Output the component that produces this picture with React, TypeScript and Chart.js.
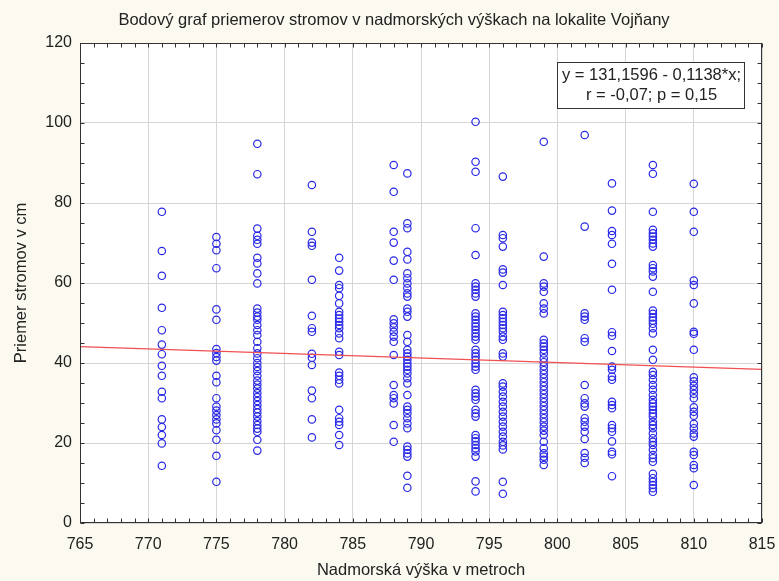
import { useEffect, useRef } from 'react';
import { Chart, registerables } from 'chart.js';

Chart.register(...registerables);

// Altitude (m) of each sampling plot and the trunk diameters (cm) measured there
const altitudes = [771, 775, 778, 782, 784, 788, 789, 794, 796, 799, 802, 804, 807, 810];

const d771 = [77.8, 68, 61.8, 53.8, 48.2, 44.6, 42.2, 39.3, 36.8, 32.8, 31.2, 25.9, 24, 22, 19.9, 14.3];
const d775 = [71.5, 69.8, 68.2, 63.7, 53.4, 50.8, 43.5, 42.5, 41.5, 40.6, 36.8, 35.2, 31.2, 29.1, 28.1, 27, 25.9, 24.9, 23.2, 20.8, 16.8, 10.3];
const d778 = [94.8, 87.2, 73.6, 71.8, 70.8, 69.8, 66.3, 64.9, 62.4, 59.9, 53.6, 52.6, 51.6, 50.8, 49.5, 48.2, 47, 45.3, 43.7, 42.4, 41.2, 40, 39, 38, 36.8, 35.6, 34.6, 33.6, 32.5, 31.5, 30.5, 29.5, 28.5, 27.6, 26.6, 25.5, 24.5, 23.6, 22.8, 20.8, 18.1];
const d782 = [84.5, 72.8, 70.1, 69.3, 60.8, 51.8, 48.7, 47.8, 42.3, 41.3, 39.5, 33.1, 31.2, 25.9, 21.4];
const d784 = [66.3, 63.1, 59.5, 58.7, 56.8, 54.9, 52.8, 52, 51.1, 50.3, 49.5, 48.7, 47.4, 46.2, 42.8, 42, 37.6, 36.8, 35.8, 34.9, 28.3, 26.2, 25.3, 24.5, 22, 19.5];
const d788 = [89.5, 82.8, 72.8, 70.1, 65.6, 60.8, 50.9, 49.9, 48.9, 47.8, 46.6, 45.3, 42, 34.5, 32, 31.2, 29.9, 24.5, 20.3];
const d789 = [87.4, 74.9, 73.7, 67.8, 65.9, 62.4, 61.2, 59.9, 58.7, 57.4, 56.6, 53.6, 52.8, 51.6, 47, 45.3, 43.3, 42.4, 41.6, 40.8, 39.9, 39.1, 38.3, 37.4, 36.2, 34.9, 32, 29.1, 28.3, 27.4, 26.2, 24.9, 23.7, 19.1, 18.3, 17.4, 16.6, 11.8, 8.8];
const d794 = [100.3, 90.3, 87.8, 73.7, 67, 59.9, 59.1, 58.3, 57.4, 56.6, 52.4, 51.6, 50.8, 49.9, 49.1, 48.3, 47.4, 46.6, 45.8, 43.3, 42.4, 41.6, 40.8, 39.9, 39.1, 38.3, 33.3, 32.4, 31.6, 30.8, 28.3, 27.4, 26.6, 22, 21.2, 20.4, 19.5, 18.7, 17.9, 16.6, 10.4, 7.9];
const d796 = [86.6, 72, 71.2, 69.1, 63.4, 62.6, 59.5, 52.8, 52, 51.2, 50.3, 49.5, 48.7, 47.8, 46.6, 45.8, 42.4, 41.6, 34.9, 34.1, 32.8, 31.6, 30.3, 29.1, 27.8, 26.6, 25.3, 24.1, 22.8, 21.6, 20.3, 19.4, 18.4, 10.3, 7.3];
const d799 = [95.3, 66.6, 59.9, 59.1, 57.8, 54.9, 53.6, 52.4, 45.8, 44.9, 44.1, 43.3, 42.4, 41.2, 40.2, 39.2, 38.2, 37.2, 36.2, 35.2, 34.2, 33.2, 32.2, 31.2, 30.2, 29.2, 28.2, 27.2, 26.2, 25.2, 24.1, 23.1, 22, 20.3, 18.7, 17.4, 16.6, 15.8, 14.5];
const d802 = [97, 74.1, 52.4, 51.6, 50.8, 46.2, 45.3, 34.5, 31.2, 29.9, 29.1, 26.2, 25.3, 24.1, 22.8, 21, 17.5, 16.3, 15];
const d804 = [84.9, 78.1, 73, 72, 69.8, 64.8, 58.3, 47.7, 46.8, 43, 39.1, 38.3, 36.6, 35.8, 30.3, 29.5, 28.7, 24.5, 23.7, 22.8, 20.4, 17.8, 17.2, 11.7];
const d807 = [89.5, 87.3, 77.8, 73.3, 72.4, 71.6, 70.8, 69.9, 69.1, 64.5, 63.7, 62.9, 61.6, 57.8, 53.1, 52.3, 51.4, 50.6, 49.8, 48.7, 47.4, 43.3, 40.8, 37.8, 37, 35.8, 34.5, 33.3, 32, 30.8, 29.9, 29.1, 28.3, 27.4, 26.6, 25.3, 24.5, 23.7, 22.4, 21.2, 20.3, 19.5, 18.3, 17, 16.2, 15.3, 12.3, 11.2, 10.3, 9.5, 8.7, 7.8];
const d810 = [84.8, 77.8, 72.8, 60.6, 59.5, 54.9, 47.8, 47.3, 43.3, 36.4, 35.4, 34.3, 33.3, 32.3, 31.2, 28.9, 27.8, 26.8, 24.8, 23.7, 22.4, 21.6, 17.8, 17, 14.5, 13.7, 9.5];

const diameters = [d771, d775, d778, d782, d784, d788, d789, d794, d796, d799, d802, d804, d807, d810];

// Linear fit reported on the chart
const INTERCEPT = 131.1596;
const SLOPE = -0.1138;
const R_VALUE = -0.07;
const P_VALUE = 0.15;

// Axis ranges and tick steps
const X_MIN = 765;
const X_MAX = 815;
const X_STEP = 5;
const Y_MIN = 0;
const Y_MAX = 120;
const Y_STEP = 20;

const TITLE = 'Bodový graf priemerov stromov v nadmorských výškach na lokalite Vojňany';
const X_TITLE = 'Nadmorská výška v metroch';
const Y_TITLE = 'Priemer stromov v cm';

const FONT = '"Liberation Sans", Arial, sans-serif';
const PAGE_BG = '#fcf9f0';
const TEXT = '#222222';
const FRAME = '#333333';
const POINT = 'rgb(40, 40, 230)';
const FIT = '#f05050';

const commaNum = (v: number, digits: number) => v.toFixed(digits).replace('.', ',');

const chrome = {
  id: 'chrome',
  beforeDraw(chart: any) {
    const { ctx, chartArea: a, width, height } = chart;
    ctx.save();
    ctx.fillStyle = PAGE_BG;
    ctx.fillRect(0, 0, width, height);
    ctx.fillStyle = '#ffffff';
    ctx.fillRect(a.left, a.top, a.right - a.left, a.bottom - a.top);
    ctx.restore();
  },
  afterDraw(chart: any) {
    const { ctx, chartArea: a } = chart;
    const xs = chart.scales.x;
    const ys = chart.scales.y;
    const L = Math.round(a.left) + 0.5;
    const R = Math.round(a.right) - 0.5;
    const T = Math.round(a.top) + 0.5;
    const B = Math.round(a.bottom) - 0.5;
    ctx.save();
    ctx.strokeStyle = FRAME;
    ctx.lineWidth = 1;
    ctx.strokeRect(L, T, R - L, B - T);

    // inward minor ticks on all four sides
    const tick = 4;
    ctx.beginPath();
    for (let v = X_MIN; v <= X_MAX; v += 1) {
      const px = Math.round(xs.getPixelForValue(v)) + 0.5;
      ctx.moveTo(px, B);
      ctx.lineTo(px, B - tick);
      ctx.moveTo(px, T);
      ctx.lineTo(px, T + tick);
    }
    for (let v = Y_MIN; v <= Y_MAX; v += 5) {
      const py = Math.round(ys.getPixelForValue(v)) + 0.5;
      ctx.moveTo(L, py);
      ctx.lineTo(L + tick, py);
      ctx.moveTo(R, py);
      ctx.lineTo(R - tick, py);
    }
    ctx.stroke();

    // chart title
    ctx.fillStyle = TEXT;
    ctx.font = `16.5px ${FONT}`;
    ctx.textAlign = 'center';
    ctx.textBaseline = 'middle';
    ctx.fillText(TITLE, 394, 20);

    // regression statistics box
    const bw = 187;
    const bh = 46;
    const bx = Math.round(a.right) - 18 - bw;
    const by = Math.round(a.top) + 19;
    ctx.fillStyle = '#ffffff';
    ctx.fillRect(bx, by, bw, bh);
    ctx.strokeStyle = FRAME;
    ctx.strokeRect(bx + 0.5, by + 0.5, bw, bh);
    ctx.fillStyle = TEXT;
    ctx.font = `16.5px ${FONT}`;
    const line1 = `y = ${commaNum(INTERCEPT, 4)} - ${commaNum(-SLOPE, 4)}*x;`;
    const line2 = `r = ${commaNum(R_VALUE, 2)}; p = ${commaNum(P_VALUE, 2)}`;
    ctx.fillText(line1, bx + bw / 2 + 1, by + 13);
    ctx.fillText(line2, bx + bw / 2 + 1, by + 33);
    ctx.restore();
  },
};

export default function App() {
  const canvasRef = useRef<HTMLCanvasElement | null>(null);

  useEffect(() => {
    document.body.style.margin = '0';
    const canvas = canvasRef.current;
    if (!canvas) return;

    const points: { x: number; y: number }[] = [];
    altitudes.forEach((alt, i) => {
      diameters[i].forEach((d) => points.push({ x: alt, y: d }));
    });
    const fitLine = [X_MIN, X_MAX].map((x) => ({ x, y: INTERCEPT + SLOPE * x }));

    const chart = new Chart(canvas, {
      type: 'scatter',
      data: {
        datasets: [
          {
            label: 'fit',
            data: fitLine,
            showLine: true,
            borderColor: FIT,
            borderWidth: 1.2,
            pointRadius: 0,
            fill: false,
          },
          {
            label: 'diameters',
            data: points,
            pointStyle: 'circle',
            pointRadius: 3.7,
            pointBorderWidth: 1.2,
            borderColor: POINT,
            backgroundColor: 'rgba(0,0,0,0)',
          },
        ],
      },
      plugins: [chrome],
      options: {
        responsive: false,
        animation: false,
        events: [],
        layout: { padding: { top: 43, right: 17, left: 0, bottom: 0 } },
        plugins: {
          legend: { display: false },
          tooltip: { enabled: false },
          title: { display: false },
        },
        scales: {
          x: {
            type: 'linear',
            min: X_MIN,
            max: X_MAX,
            afterFit: (s: any) => {
              s.height = 58;
              s.paddingLeft = 0;
              s.paddingRight = 0;
            },
            ticks: {
              stepSize: X_STEP,
              color: TEXT,
              padding: 12,
              font: { family: FONT, size: 16 },
            },
            grid: { color: '#d6d6d6', lineWidth: 1, drawTicks: false },
            border: { display: false },
            title: {
              display: true,
              text: X_TITLE,
              color: TEXT,
              font: { family: FONT, size: 16.5 },
              padding: { top: 0, bottom: 1 },
            },
          },
          y: {
            type: 'linear',
            min: Y_MIN,
            max: Y_MAX,
            afterFit: (s: any) => {
              s.width = 80;
              s.paddingTop = 0;
              s.paddingBottom = 0;
            },
            ticks: {
              stepSize: Y_STEP,
              color: TEXT,
              padding: 8,
              font: { family: FONT, size: 16 },
            },
            grid: { color: '#d6d6d6', lineWidth: 1, drawTicks: false },
            border: { display: false },
            title: {
              display: true,
              text: Y_TITLE,
              color: TEXT,
              font: { family: FONT, size: 16.5 },
              padding: { top: 12, bottom: 0 },
            },
          },
        },
      },
    });

    return () => chart.destroy();
  }, []);

  return <canvas ref={canvasRef} width={779} height={581} style={{ display: 'block' }} />;
}
